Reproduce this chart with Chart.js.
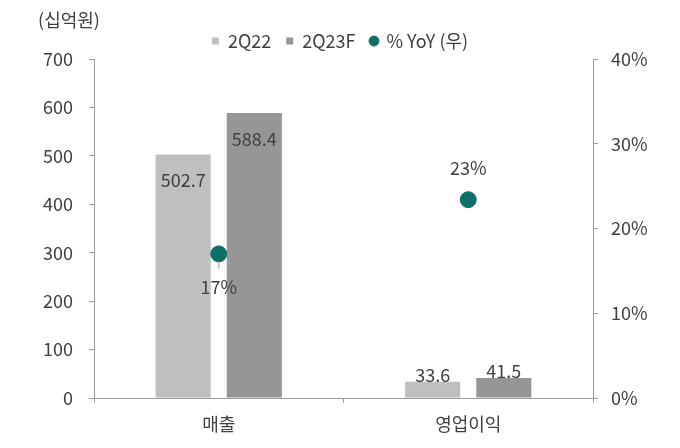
<!DOCTYPE html>
<html>
<head>
<meta charset="utf-8">
<script src="https://cdn.jsdelivr.net/npm/chart.js@4"></script>
<style>
  html, body { margin: 0; padding: 0; background: #fff; }
  #wrap { width: 680px; height: 448px; }
</style>
</head>
<body>
<div id="wrap"><canvas id="chart" width="680" height="448"></canvas></div>
<script>
// ── Data ──────────────────────────────────────────────────────
const categories = ['매출', '영업이익'];
const series2Q22 = [502.7, 33.6];
const series2Q23F = [588.4, 41.5];
const yoyPct = [17.0, 23.4];
const leftTicks = [0, 100, 200, 300, 400, 500, 600, 700];
const rightTicks = [0, 10, 20, 30, 40];
const unitLabel = '(십억원)';

const TEXT = '#404040';
const AXIS = '#9a9a9a';
const FONT = "'Noto Sans CJK KR', 'Noto Sans', sans-serif";

Chart.defaults.font.family = FONT;
Chart.defaults.font.size = 18;
Chart.defaults.color = TEXT;

// ── Labels, leader line, unit text ────────────────────────────
const labelPlugin = {
  id: 'labels',
  afterInit(chart) {
    // keep the legend short so the plot can start right under it
    const lg = chart.legend;
    if (!lg) return;
    const fit = lg.fit.bind(lg);
    lg.fit = function() { fit(); this.height = 42; };
  },
  afterDatasetsDraw(chart) {
    const ctx = chart.ctx;
    const y = chart.scales.y;
    ctx.save();
    ctx.font = '18px ' + FONT;
    ctx.fillStyle = TEXT;
    ctx.textAlign = 'center';
    ctx.textBaseline = 'middle';

    [0, 1].forEach(di => {
      const meta = chart.getDatasetMeta(di);
      meta.data.forEach((bar, i) => {
        const v = chart.data.datasets[di].data[i];
        const ty = v > 100 ? bar.y + 26 : bar.y - 7;
        ctx.fillText(v.toFixed(1), bar.x, ty);
      });
    });

    const pm = chart.getDatasetMeta(2);
    pm.data.forEach((pt, i) => {
      const barTop = Math.min(
        chart.getDatasetMeta(0).data[i].y,
        chart.getDatasetMeta(1).data[i].y
      );
      const below = barTop < pt.y;
      if (below) {
        ctx.strokeStyle = '#c8c8c8';
        ctx.lineWidth = 2;
        ctx.beginPath();
        ctx.moveTo(pt.x, pt.y + 8);
        ctx.lineTo(pt.x, pt.y + 15);
        ctx.stroke();
      }
      ctx.fillStyle = TEXT;
      ctx.fillText(Math.round(yoyPct[i]) + '%', pt.x, below ? pt.y + 33 : pt.y - 32);
    });

    ctx.textAlign = 'center';
    ctx.fillText(unitLabel, y.right - 25, 20);
    ctx.restore();
  }
};

new Chart(document.getElementById('chart'), {
  type: 'bar',
  data: {
    labels: categories,
    datasets: [
      {
        label: '2Q22',
        data: series2Q22,
        backgroundColor: '#bfbfbf',
        pointStyle: 'rect',
        yAxisID: 'y',
        order: 1
      },
      {
        label: '2Q23F',
        data: series2Q23F,
        backgroundColor: '#969696',
        pointStyle: 'rect',
        yAxisID: 'y',
        order: 2
      },
      {
        type: 'line',
        label: '% YoY (우)',
        data: yoyPct,
        showLine: false,
        pointStyle: 'circle',
        pointRadius: 8,
        pointBackgroundColor: '#0f6f66',
        pointBorderColor: '#0f6f66',
        backgroundColor: '#0f6f66',
        borderColor: '#0f6f66',
        yAxisID: 'y1',
        order: 0
      }
    ]
  },
  options: {
    responsive: false,
    animation: false,
    layout: { padding: { top: 17, left: 0, right: 0, bottom: 0 } },
    datasets: {
      bar: { categoryPercentage: 0.57, barPercentage: 0.775 }
    },
    plugins: {
      legend: {
        position: 'top',
        labels: {
          usePointStyle: true,
          boxWidth: 7,
          boxHeight: 7,
          padding: 15,
          color: TEXT,
          font: { size: 18 },
          sort: (a, b) => a.datasetIndex - b.datasetIndex
        }
      },
      tooltip: { enabled: false }
    },
    scales: {
      x: {
        grid: { display: true, drawOnChartArea: false, drawTicks: true, tickLength: 5, color: AXIS, offset: true },
        border: { color: AXIS },
        ticks: { padding: 10, color: TEXT, font: { size: 18 } },
        afterFit: s => { s.height = 50; }
      },
      y: {
        position: 'left',
        min: 0,
        max: 700,
        afterBuildTicks: s => { s.ticks = leftTicks.map(v => ({ value: v })); },
        grid: { display: true, drawOnChartArea: false, drawTicks: true, tickLength: 5, color: AXIS },
        border: { color: AXIS },
        ticks: { padding: 16, color: TEXT, font: { size: 18 } },
        afterFit: s => { s.width = 94; }
      },
      y1: {
        position: 'right',
        min: 0,
        max: 40,
        afterBuildTicks: s => { s.ticks = rightTicks.map(v => ({ value: v })); },
        grid: { display: true, drawOnChartArea: false, drawTicks: true, tickLength: 5, color: AXIS },
        border: { color: AXIS },
        ticks: { padding: 13, color: TEXT, font: { size: 18 }, callback: v => v + '%' },
        afterFit: s => { s.width = 87; }
      }
    }
  },
  plugins: [labelPlugin]
});
</script>
</body>
</html>
